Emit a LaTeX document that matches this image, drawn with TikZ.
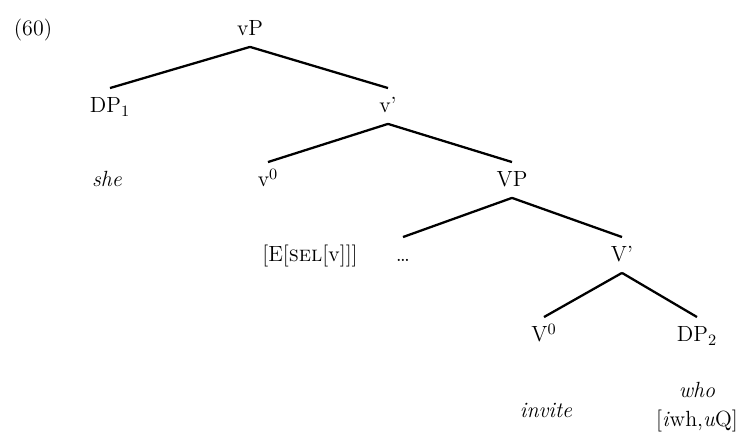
\documentclass[tikz,border=0pt]{standalone}

\begin{document}
\begin{tikzpicture}
  [font=\fontsize{12.5}{15}\selectfont]
  \tikzstyle{cat}  = [anchor=base, inner sep=3pt, text height=11pt, text depth=3pt];
  \tikzstyle{word} = [anchor=base, inner sep=1pt];
  \tikzstyle{branch} = [line width=1.3pt];

  \useasboundingbox (0, 0) rectangle (15.06, 8.8);

  \node[word] (ex) at (0.66, 8.08) {(60)};

  \node[cat] (vP)  at (5.0, 8.08) {vP};

  \node[cat] (dp1) at (2.2, 6.54) {DP$_1$};
  \node[cat] (vbar) at (7.76, 6.54) {v'};

  \node[word] (she) at (2.14, 5.06) {\itshape she};
  \node[cat] (v0)  at (5.36, 5.06) {v$^0$};
  \node[cat] (VP)  at (10.24, 5.06) {VP};

  \node[word] (feat) at (6.2, 3.56) {[E[\textsc{sel}[v]]]};
  \node[cat] (dots) at (8.06, 3.56) {\dots};
  \node[cat] (Vbar) at (12.44, 3.56) {V'};

  \node[cat] (V0)  at (10.88, 1.96) {V$^0$};
  \node[cat] (dp2) at (13.94, 1.96) {DP$_2$};

  \node[word] (invite) at (10.92, 0.44) {\itshape invite};
  \node[word] (who)    at (13.94, 0.84) {\itshape who};
  \node[word] (whfeat) at (13.94, 0.26) {[\textit{i}wh,\textit{u}Q]};

  \draw[branch] (vP.south) -- (dp1.north);
  \draw[branch] (vP.south) -- (vbar.north);

  \draw[branch] (vbar.south) -- (v0.north);
  \draw[branch] (vbar.south) -- (VP.north);

  \draw[branch] (VP.south) -- (dots.north);
  \draw[branch] (VP.south) -- (Vbar.north);

  \draw[branch] (Vbar.south) -- (V0.north);
  \draw[branch] (Vbar.south) -- (dp2.north);

\end{tikzpicture}
\end{document}
